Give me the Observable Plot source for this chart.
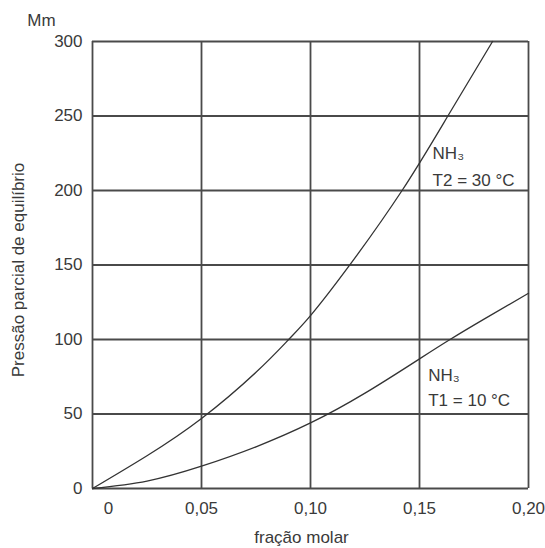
<!DOCTYPE html>
<html>
<head>
<meta charset="utf-8">
<script src="https://cdn.jsdelivr.net/npm/d3@7"></script>
<script src="https://cdn.jsdelivr.net/npm/@observablehq/plot@0.6"></script>
<style>
  html, body { margin: 0; padding: 0; background: #fff; }
  svg { display: block; }
</style>
</head>
<body>
<div id="chart"></div>
<script>
// Curve T2 = 30 °C (mole fraction, partial pressure)
const xT2 = [0, 0.025, 0.05, 0.075, 0.09, 0.10, 0.117, 0.142, 0.163, 0.1835];
const yT2 = [0, 22, 47, 78, 100, 116, 148, 200, 250, 300];
// Curve T1 = 10 °C
const xT1 = [0, 0.025, 0.05, 0.075, 0.10, 0.125, 0.15, 0.164, 0.18, 0.20];
const yT1 = [0, 5, 15, 28, 44, 64, 87, 100, 114, 131];
// Ticks
const xTicks = [0.05, 0.10, 0.15, 0.20];
const xTickLabels = ["0,05", "0,10", "0,15", "0,20"];
const yTicks = [0, 50, 100, 150, 200, 250, 300];
// Annotations (anchored in data units)
const labelText = ["NH₃", "T2 = 30 °C", "NH₃", "T1 = 10 °C"];
const labelX = [0.156, 0.156, 0.154, 0.154];
const labelY = [225, 207, 76, 59];

const t2 = xT2.map((x, i) => ({x, y: yT2[i]}));
const t1 = xT1.map((x, i) => ({x, y: yT1[i]}));
const labels = labelText.map((t, i) => ({t, x: labelX[i], y: labelY[i]}));

const font = "Liberation Sans, Arial, Helvetica, sans-serif";
const txt = "#3a3a3a";
const grid = "#4a4a4a";

const chart = Plot.plot({
  width: 545,
  height: 548,
  marginLeft: 92,
  marginRight: 17,
  marginTop: 41,
  marginBottom: 60,
  style: {fontFamily: font, fontSize: "17px", color: txt, background: "#fff"},
  x: {domain: [0, 0.2]},
  y: {domain: [0, 300]},
  marks: [
    Plot.ruleX([0, ...xTicks], {stroke: grid, strokeWidth: 1.8, y1: 0, y2: 300}),
    Plot.ruleY(yTicks, {stroke: grid, strokeWidth: 1.8, x1: 0, x2: 0.2}),
    Plot.line(t2, {x: "x", y: "y", curve: "natural", stroke: "#333", strokeWidth: 1.3}),
    Plot.line(t1, {x: "x", y: "y", curve: "natural", stroke: "#333", strokeWidth: 1.3}),
    Plot.axisY(yTicks, {tickSize: 0, tickPadding: 10, label: null, fontSize: 17, fill: txt}),
    Plot.axisX([0], {tickSize: 0, tickPadding: 13, label: null, dx: 16, fontSize: 17, fill: txt, tickFormat: () => "0"}),
    Plot.axisX(xTicks, {tickSize: 0, tickPadding: 13, label: null, fontSize: 17, fill: txt, tickFormat: (d, i) => xTickLabels[i]}),
    Plot.text(labels, {x: "x", y: "y", text: "t", textAnchor: "start", lineAnchor: "middle", fontSize: 17, fill: txt}),
    Plot.text(["Mm"], {frameAnchor: "top-left", dx: -51, dy: -21, textAnchor: "middle", lineAnchor: "middle", fontSize: 17, fill: txt}),
    Plot.text(["Pressão parcial de equilíbrio"], {frameAnchor: "left", rotate: -90, dx: -74, dy: 5, textAnchor: "middle", lineAnchor: "middle", fontSize: 17, fill: txt}),
    Plot.text(["fração molar"], {frameAnchor: "bottom", dx: -9, dy: 49, textAnchor: "middle", lineAnchor: "middle", fontSize: 17, fill: txt})
  ]
});
document.getElementById("chart").appendChild(chart);
</script>
</body>
</html>
